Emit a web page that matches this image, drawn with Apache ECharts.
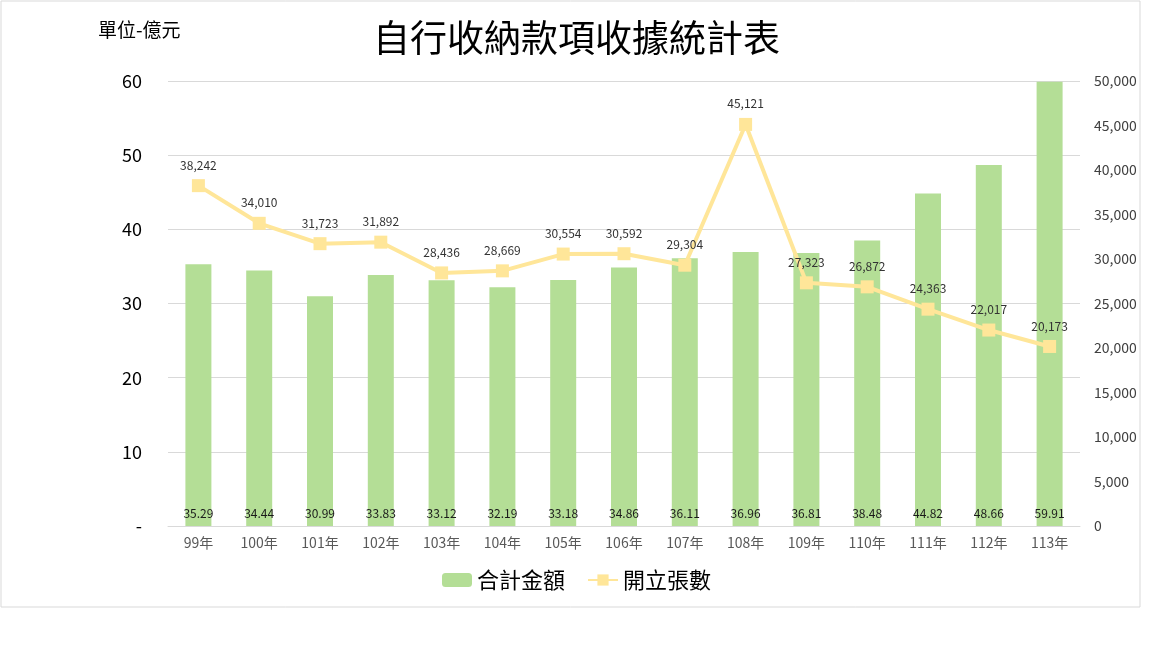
<!DOCTYPE html>
<html>
<head>
<meta charset="utf-8">
<script src="https://cdn.jsdelivr.net/npm/echarts@6/dist/echarts.min.js"></script>
<style>
  html, body { margin: 0; padding: 0; background: #fff; }
  #main { width: 1153px; height: 648px; }
</style>
</head>
<body>
<div id="main"></div>
<script>
var years = ['99年', '100年', '101年', '102年', '103年', '104年', '105年', '106年', '107年', '108年', '109年', '110年', '111年', '112年', '113年'];
var amounts = [35.29, 34.44, 30.99, 33.83, 33.12, 32.19, 33.18, 34.86, 36.11, 36.96, 36.81, 38.48, 44.82, 48.66, 59.91];
var counts = [38242, 34010, 31723, 31892, 28436, 28669, 30554, 30592, 29304, 45121, 27323, 26872, 24363, 22017, 20173];

var font = '"Noto Sans CJK TC", "Open Sans", sans-serif';
var chart = echarts.init(document.getElementById('main'));

var option = {
  backgroundColor: '#fff',
  textStyle: { fontFamily: font },
  title: {
    text: '自行收納款項收據統計表',
    left: 'center',
    top: 14,
    textStyle: { fontSize: 37, fontWeight: 'normal', color: '#000', fontFamily: font }
  },
  graphic: [
    {                          // 外框
      type: 'rect',
      shape: { x: 1, y: 1, width: 1139, height: 606 },
      style: { fill: 'none', stroke: '#d9d9d9', lineWidth: 1 },
      silent: true
    },
    {                          // 單位
      type: 'text',
      left: 98,
      top: 20,
      style: { text: '單位-億元', fontSize: 19, fill: '#000', fontFamily: font }
    }
  ],
  legend: {
    bottom: 52,
    left: 'center',
    itemWidth: 30,
    itemHeight: 14,
    itemGap: 22,
    textStyle: { fontSize: 22, color: '#000', fontFamily: font },
    data: ['合計金額', '開立張數']
  },
  grid: { left: 168, right: 73, top: 81, bottom: 122 },
  xAxis: {
    type: 'category',
    data: years,
    axisLine: { lineStyle: { color: '#d9d9d9' } },
    axisTick: { show: false },
    axisLabel: { fontSize: 14, color: '#595959', margin: 10 }
  },
  yAxis: [
    {
      type: 'value',
      min: 0,
      max: 60,
      interval: 10,
      axisLine: { show: false },
      axisTick: { show: false },
      splitLine: { lineStyle: { color: '#d9d9d9' } },
      axisLabel: {
        fontSize: 18,
        color: '#000',
        margin: 26,
        formatter: function (v) { return v === 0 ? '-' : v; }
      }
    },
    {
      type: 'value',
      min: 0,
      max: 50000,
      interval: 5000,
      axisLine: { show: false },
      axisTick: { show: false },
      splitLine: { show: false },
      axisLabel: {
        fontSize: 14,
        color: '#404040',
        margin: 14,
        formatter: function (v) { return v.toLocaleString('en-US'); }
      }
    }
  ],
  series: [
    {
      name: '合計金額',
      type: 'bar',
      data: amounts,
      barWidth: 26,
      itemStyle: { color: '#b4de96' },
      label: {
        show: true,
        position: 'insideBottom',
        distance: 7,
        fontSize: 12,
        color: '#1a1a1a',
        formatter: function (p) { return p.value.toFixed(2); }
      }
    },
    {
      name: '開立張數',
      type: 'line',
      yAxisIndex: 1,
      data: counts,
      symbol: 'rect',
      symbolSize: 13,
      lineStyle: { color: '#ffe699', width: 4 },
      itemStyle: { color: '#ffe699' },
      label: {
        show: true,
        position: 'top',
        distance: 8,
        fontSize: 12,
        color: '#333',
        formatter: function (p) { return p.value.toLocaleString('en-US'); }
      },
      z: 3
    }
  ]
};

chart.setOption(option);
</script>
</body>
</html>
